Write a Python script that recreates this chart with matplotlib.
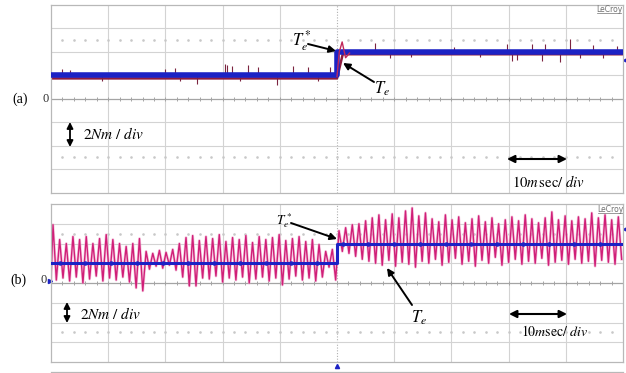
import numpy as np
import matplotlib
matplotlib.use('Agg')
import matplotlib.pyplot as plt
from matplotlib.lines import Line2D
from matplotlib.patches import FancyArrowPatch

plt.rcParams['mathtext.fontset'] = 'stix'
plt.rcParams['font.family'] = ['Liberation Serif', 'DejaVu Serif']

# ---------------- data ----------------
t_step = 50.0          # ms (step instant)
t_end = 100.0          # ms (10 div x 10 ms)
ref_before = 2.0       # Nm  (Te* before step)
ref_after = 4.0        # Nm  (Te* after step)

# (a) measured torque: mean levels, spikes and step transient
te_a_before = 1.74
te_a_after = 3.8
spike_a_t = [2.0, 3.3, 9.0, 19.9, 21.7, 22.6, 25.5, 30.4, 30.8, 31.6, 33.0, 34.4,
             36.2, 39.5, 42.3, 44.9, 46.7, 48.8,
             56.6, 59.3, 63.0, 70.5, 75.0, 79.8, 80.6, 81.5, 84.1, 85.8, 86.4,
             89.0, 90.7, 92.5, 94.8, 96.5, 98.9]
spike_a_v = [2.5, 2.45, 1.55, 2.5, 2.6, 1.55, 1.3, 3.0, 2.9, 2.8, 1.5, 2.9,
             2.7, 1.2, 2.8, 2.7, 1.5, 2.7,
             4.8, 3.5, 3.6, 4.4, 3.55, 4.65, 3.2, 3.35, 4.7, 3.2, 4.65,
             3.1, 5.1, 3.5, 4.6, 3.5, 4.5]
trans_a_t = [50.0, 50.4, 50.9, 51.5, 52.2]
trans_a_v = [1.9, 4.0, 4.85, 3.5, 3.9]

# (b) measured torque: peak / trough of each ripple cycle
peaks_b_before = [5.9, 4.4, 4.0, 4.7, 4.4, 4.7, 4.0, 4.5, 4.9, 4.4, 4.0, 3.7, 4.0, 4.5,
                  3.2, 3.0, 3.3, 3.1, 3.4,
                  4.0, 4.6, 4.8, 4.3, 4.7, 4.5, 4.9, 4.2, 4.6, 4.4, 4.8, 4.1, 4.7,
                  4.4, 4.6, 4.9, 4.3, 4.5, 4.7, 4.2, 4.4, 3.9,
                  3.2, 3.4]
troughs_b_before = [0.3, 0.5, 0.2, 0.6, 0.0, 0.4, 0.7, 0.2, 0.5, 0.3, 0.6, 0.1, -0.5, -0.8,
                    1.4, 1.7, 1.5, 1.8, 1.3,
                    0.6, -0.3, -0.3, 0.5, 0.4, 0.7, 0.1, 0.5, 0.3, 0.6, 0.0, 0.4, 0.6,
                    0.2, 0.5, -0.2, 0.4, 0.7, 0.3, 0.5, 0.2, 0.6,
                    1.6, 0.3]
peaks_b_after = [5.3, 5.6, 5.9, 6.0, 6.3, 6.6, 6.9, 6.4, 7.0, 6.6, 7.3, 7.6, 6.8, 7.1,
                 6.5, 6.2, 6.9, 6.4, 6.7, 6.1, 6.5, 6.8, 6.2, 6.6, 6.0, 6.4, 6.7, 6.3,
                 6.9, 6.5, 6.1, 6.6, 7.2, 6.4, 6.8, 6.3, 6.7, 6.5, 7.1, 6.6, 6.9, 6.4, 6.7]
troughs_b_after = [3.2, 3.0, 2.7, 2.4, 2.2, 2.0, 1.8, 2.3, 1.7, 2.1, 1.9, 1.6, 2.2, 2.0,
                   2.4, 1.8, 2.1, 2.5, 1.9, 2.2, 1.7, 2.3, 2.0, 2.6, 1.8, 2.1, 2.4, 1.9,
                   2.2, 2.0, 2.5, 1.8, 2.1, 2.3, 1.9, 2.4, 2.0, 2.2, 1.7, 2.3, 2.1, 1.9, 2.4]

# ---------------- figure ----------------
W, H = 626, 373
fig = plt.figure(figsize=(W / 100, H / 100), dpi=100)
fig.patch.set_facecolor('white')

def fx(px):
    return px / W

def fy(py):
    return 1 - py / H

BLUE = '#1c22c4'
GRID = '#d3d3d3'
FRAME = '#b8b8b8'

axA = fig.add_axes([fx(51), fy(192.6), (623 - 51) / W, (192.6 - 5) / H])
axB = fig.add_axes([fx(51), fy(362), (623 - 51) / W, (362 - 204) / H])

def scope_grid(ax):
    ax.set_xlim(0, t_end)
    ax.set_ylim(-8, 8)
    ax.set_xticks([])
    ax.set_yticks([])
    for s in ax.spines.values():
        s.set_color(FRAME)
        s.set_linewidth(0.9)
    for t in range(10, 100, 10):
        if t == 50:
            ax.axvline(t, color='#b0b0b0', lw=0.8, ls=(0, (1, 1.5)), zorder=0)
        else:
            ax.axvline(t, color=GRID, lw=0.8, zorder=0)
    for y in (-6, -4, -2, 2, 4, 6):
        ax.axhline(y, color=GRID, lw=0.8, zorder=0)
    ax.axhline(0, color='#a4a4a4', lw=0.9, zorder=0)
    tk = np.arange(2, 100, 2)
    ax.vlines(tk, -0.18, 0.18, color='#a4a4a4', lw=0.7, zorder=0)
    ax.plot(tk, np.full(tk.shape, 5.0), ls='none', marker='s', ms=0.8,
            color='#c8c8c8', zorder=0)
    ax.plot(tk, np.full(tk.shape, -5.0), ls='none', marker='s', ms=0.8,
            color='#c8c8c8', zorder=0)

scope_grid(axA)
scope_grid(axB)

# reference step (blue)
ref_t = [0, t_step, t_step, t_end]
ref_v = [ref_before, ref_before, ref_after, ref_after]

# ---- panel (a) measured torque ----
base_t = [0.0, t_step, t_step + 1.0, t_end]
base_v = [te_a_before, te_a_before, te_a_after, te_a_after]
axA.plot(base_t, base_v, color='#8e1c3e', lw=1.8, zorder=2)
sp_t = np.array(spike_a_t)
sp_v = np.array(spike_a_v)
sp_base = np.where(sp_t < t_step, ref_before, ref_after)
axA.vlines(sp_t, sp_base, sp_v, color='#7c2440', lw=0.8, zorder=2)
axA.plot(ref_t, ref_v, color=BLUE, lw=4.0, zorder=3)
axA.plot(trans_a_t, trans_a_v, color='#c0285a', lw=1.0, zorder=4)

# ---- panel (b) measured torque ----
def ripple(peaks, troughs, t0, t1):
    n = len(peaks)
    T = (t1 - t0) / n
    tt, vv = [], []
    for i in range(n):
        tt += [t0 + (i + 0.3) * T, t0 + (i + 0.8) * T]
        vv += [peaks[i], troughs[i]]
    return tt, vv

tb1, vb1 = ripple(peaks_b_before, troughs_b_before, 0.0, t_step)
tb2, vb2 = ripple(peaks_b_after, troughs_b_after, t_step, t_end)
rb_t = [0.0] + tb1 + tb2
rb_v = [troughs_b_before[0]] + vb1 + vb2
axB.plot(rb_t, rb_v, color='#f0a0c8', lw=2.0, zorder=2, alpha=0.6)
axB.plot(rb_t, rb_v, color='#d01f78', lw=1.0, zorder=2)
axB.plot(ref_t, ref_v, color=BLUE, lw=2.2, zorder=3)
mk = np.arange(1.5, 100, 4.5)
axB.plot(mk, np.where(mk < t_step, ref_before, ref_after), ls='none', marker='o',
         ms=2.2, color=BLUE, zorder=3)

# side markers
axA.plot([t_end + 0.4], [3.3], marker='<', ms=3, color=BLUE, clip_on=False)
axB.plot([t_end + 0.4], [5.5], marker='<', ms=3, color=BLUE, clip_on=False)
axB.plot([t_step], [-8.45], marker='^', ms=3, color=BLUE, clip_on=False)

# next frame (cut) at bottom
fig.add_artist(Line2D([fx(51), fx(623)], [fy(371.5), fy(371.5)], color=FRAME, lw=0.9))

# ---------------- annotations ----------------
def ftext(px, py, s, **kw):
    fig.text(fx(px), fy(py), s, **kw)

def arrow(x0, y0, x1, y1, style='-|>', lw=1.4, ms=10):
    fig.add_artist(FancyArrowPatch(
        (fx(x0), fy(y0)), (fx(x1), fy(y1)), transform=fig.transFigure,
        arrowstyle=style, mutation_scale=ms, lw=lw, color='black',
        shrinkA=0, shrinkB=0))

def lecroy(px, py):
    ftext(px, py, 'LeCroy', fontsize=5.5, color='#707070', ha='center', va='center',
          family=['DejaVu Sans'])
    fig.add_artist(Line2D([fx(px - 12), fx(px + 12)], [fy(py + 4), fy(py + 4)],
                          color='#707070', lw=0.5))

# panel (a)
ftext(20, 99, '(a)', fontsize=10, ha='center', va='center')
ftext(46, 99, '0', fontsize=9, ha='center', va='center', color='#303030')
ftext(302, 41, r'$T_e^*$', fontsize=12, ha='center', va='center')
arrow(308, 44, 336, 51)
ftext(382, 89, r'$T_e$', fontsize=12, ha='center', va='center')
arrow(374, 82, 343, 63)
arrow(70, 122, 70, 147, style='<|-|>', lw=1.3, ms=9)
ftext(83, 134, r'$2Nm\ /\ div$', fontsize=11, ha='left', va='center')
arrow(507, 159, 567, 159, style='<|-|>', lw=1.5, ms=11)
ftext(512, 182, r'$10m\,\mathrm{sec}/\ div$', fontsize=10.5, ha='left', va='center')
lecroy(609, 9)

# panel (b)
ftext(18, 280, '(b)', fontsize=10, ha='center', va='center')
ftext(44, 280, '0', fontsize=9, ha='center', va='center', color='#303030')
axB.plot([-0.2], [0.2], marker='>', ms=3, color=BLUE, clip_on=False)
ftext(284, 221, r'$T_e^*$', fontsize=9.5, ha='center', va='center')
arrow(291, 223, 337, 239)
ftext(419, 318, r'$T_e$', fontsize=12, ha='center', va='center')
arrow(412, 305, 387, 268)
arrow(67, 302, 67, 323, style='<|-|>', lw=1.3, ms=9)
ftext(80, 314, r'$2Nm\ /\ div$', fontsize=11, ha='left', va='center')
arrow(509, 314, 567, 314, style='<|-|>', lw=1.5, ms=11)
ftext(521, 332, r'$10m\mathrm{sec}/\ div$', fontsize=10, ha='left', va='center')
lecroy(610, 209)

fig.savefig('out.png', dpi=100, facecolor='white')
